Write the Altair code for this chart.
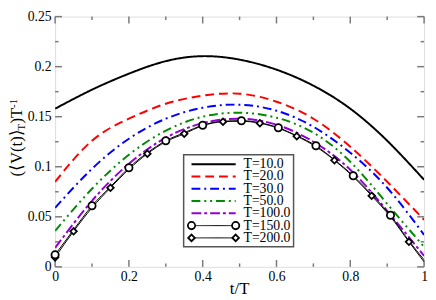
import altair as alt
import pandas as pd

# ---------------- data ----------------
t_grid = [0.0, 0.1, 0.2, 0.3, 0.4, 0.5, 0.6, 0.7, 0.8, 0.9, 1.0]
T10 = [0.158, 0.177, 0.193, 0.2055, 0.2105, 0.207, 0.197, 0.181, 0.158, 0.126, 0.087]
T20 = [0.085, 0.126, 0.148, 0.163, 0.171, 0.173, 0.165, 0.148, 0.120, 0.085, 0.047]
T30 = [0.059, 0.098, 0.128, 0.148, 0.159, 0.162, 0.156, 0.140, 0.114, 0.079, 0.032]
T50 = [0.036, 0.078, 0.112, 0.136, 0.150, 0.154, 0.149, 0.134, 0.105, 0.063, 0.020]
T100 = [0.019, 0.066, 0.103, 0.129, 0.1435, 0.148, 0.142, 0.125, 0.097, 0.056, 0.011]

t_mark = [0.0, 0.05, 0.1, 0.15, 0.2, 0.25, 0.3, 0.35, 0.4, 0.455, 0.505,
          0.555, 0.605, 0.655, 0.707, 0.757, 0.808, 0.858, 0.909, 0.959, 1.0]
T150 = [0.012, 0.037, 0.061, 0.080, 0.099, 0.114, 0.126, 0.134, 0.1415, 0.1455, 0.146,
        0.144, 0.139, 0.131, 0.121, 0.107, 0.091, 0.072, 0.0515, 0.026, 0.007]
T200 = [0.0095, 0.0355, 0.059, 0.079, 0.0975, 0.113, 0.125, 0.133, 0.141, 0.145, 0.1455,
        0.1435, 0.1385, 0.1305, 0.120, 0.1065, 0.090, 0.071, 0.050, 0.025, 0.005]

labels = ["T=10.0", "T=20.0", "T=30.0", "T=50.0", "T=100.0", "T=150.0", "T=200.0"]
colors = ["#000000", "#ff0000", "#0000ff", "#008b00", "#9400d3", "#000000", "#000000"]
dashes = [[1, 0], [9, 5], [9, 4, 2, 4], [9, 4, 2, 4, 2, 4], [10, 3, 3, 3], [1, 0], [1, 0]]
widths = [2, 2, 2, 2, 2, 1, 1]

x_major = [0, 0.2, 0.4, 0.6, 0.8, 1.0]
x_minor = [0.1, 0.3, 0.5, 0.7, 0.9]
y_major = [0, 0.05, 0.1, 0.15, 0.2, 0.25]
y_minor = [0.025, 0.075, 0.125, 0.175, 0.225]

W, H = 376, 255
SERIF = "Liberation Serif"
FRAME = "#7a7a7a"

xs = alt.Scale(domain=[0, 1], nice=False, zero=False)
ys = alt.Scale(domain=[0, 0.25], nice=False, zero=False)

xax = alt.Axis(values=x_major, format="~g", ticks=False, domain=False, grid=False,
               labelFont=SERIF, labelFontSize=14, labelColor="black", labelPadding=3,
               labelFlush=False, labelOverlap=False, labelBound=False, title=None)
yax = alt.Axis(values=y_major, format="~g", ticks=False, domain=False, grid=False,
               labelFont=SERIF, labelFontSize=14, labelColor="black", labelPadding=4,
               labelFlush=False, labelOverlap=False, labelBound=False, title=None)

layers = []

# base layer carrying axes
base_df = pd.DataFrame({"t": [0.0, 1.0], "v": [0.0, 0.25]})
layers.append(alt.Chart(base_df).mark_point(opacity=0).encode(
    x=alt.X("t:Q", scale=xs, axis=xax),
    y=alt.Y("v:Q", scale=ys, axis=yax)))

# ticks (inward)
def tick_layer(vals, orient, length):
    df = pd.DataFrame({"p": vals})
    m = alt.Chart(df).mark_rule(color=FRAME, strokeWidth=1.5)
    if orient == "bottom":
        return m.encode(x=alt.X("p:Q", scale=xs), y=alt.value(H), y2=alt.value(H - length))
    if orient == "top":
        return m.encode(x=alt.X("p:Q", scale=xs), y=alt.value(0), y2=alt.value(length))
    if orient == "left":
        return m.encode(y=alt.Y("p:Q", scale=ys), x=alt.value(0), x2=alt.value(length))
    return m.encode(y=alt.Y("p:Q", scale=ys), x=alt.value(W), x2=alt.value(W - length))

for o in ["bottom", "top"]:
    layers.append(tick_layer(x_major, o, 7))
    layers.append(tick_layer(x_minor, o, 3.5))
for o in ["left", "right"]:
    layers.append(tick_layer(y_major, o, 7))
    layers.append(tick_layer(y_minor, o, 3.5))

# curves
series_grid = [T10, T20, T30, T50, T100]
for i, vals in enumerate(series_grid):
    df = pd.DataFrame({"t": t_grid, "v": vals})
    layers.append(alt.Chart(df).mark_line(
        color=colors[i], strokeWidth=widths[i], strokeDash=dashes[i],
        interpolate="natural", clip=True).encode(
        x=alt.X("t:Q", scale=xs), y=alt.Y("v:Q", scale=ys)))

for i, vals in [(5, T150), (6, T200)]:
    df = pd.DataFrame({"t": t_mark, "v": vals})
    layers.append(alt.Chart(df).mark_line(
        color=colors[i], strokeWidth=widths[i], interpolate="monotone", clip=True).encode(
        x=alt.X("t:Q", scale=xs), y=alt.Y("v:Q", scale=ys)))

# markers: circles (T=150) at even indices, diamonds (T=200) at index 0 and odd ones
n = len(t_mark) - 1
circ_df = pd.DataFrame({"t": [t_mark[k] for k in range(0, n, 2)],
                        "v": [T150[k] for k in range(0, n, 2)]})
diam_idx = [0] + list(range(1, n, 2))
diam_df = pd.DataFrame({"t": [t_mark[k] for k in diam_idx],
                        "v": [T200[k] for k in diam_idx]})
layers.append(alt.Chart(diam_df).mark_point(
    shape="diamond", size=45, filled=True, fill="white", stroke="black",
    strokeWidth=1.8, opacity=1).encode(x=alt.X("t:Q", scale=xs), y=alt.Y("v:Q", scale=ys)))
layers.append(alt.Chart(circ_df).mark_point(
    shape="circle", size=55, filled=True, fill="white", stroke="black",
    strokeWidth=1.8, opacity=1).encode(x=alt.X("t:Q", scale=xs), y=alt.Y("v:Q", scale=ys)))

# ---------------- legend (data-space layout) ----------------
LX0, LX1, LY0, LY1 = 0.3484, 0.6463, 0.0201, 0.1121
SX0, SX1, TX = 0.3697, 0.4894, 0.5106
row_y = [0.1025 - 0.01226 * k for k in range(7)]

box_df = pd.DataFrame({"x": [LX0], "x2": [LX1], "y": [LY0], "y2": [LY1]})
layers.append(alt.Chart(box_df).mark_rect(fill="white", stroke="#555555", strokeWidth=1.5).encode(
    x=alt.X("x:Q", scale=xs), x2="x2:Q", y=alt.Y("y:Q", scale=ys), y2="y2:Q"))

for i in range(7):
    df = pd.DataFrame({"x": [SX0], "x2": [SX1], "y": [row_y[i]]})
    layers.append(alt.Chart(df).mark_rule(
        color=colors[i], strokeWidth=widths[i], strokeDash=dashes[i]).encode(
        x=alt.X("x:Q", scale=xs), x2="x2:Q", y=alt.Y("y:Q", scale=ys)))

txt_df = pd.DataFrame({"x": [TX] * 7, "y": row_y, "lab": labels})
layers.append(alt.Chart(txt_df).mark_text(
    align="left", baseline="middle", font=SERIF, fontSize=14, color="black").encode(
    x=alt.X("x:Q", scale=xs), y=alt.Y("y:Q", scale=ys), text="lab:N"))

lm_c = pd.DataFrame({"x": [SX0, SX1], "y": [row_y[5]] * 2})
lm_d = pd.DataFrame({"x": [SX0, SX1], "y": [row_y[6]] * 2})
layers.append(alt.Chart(lm_c).mark_point(
    shape="circle", size=55, filled=True, fill="white", stroke="black",
    strokeWidth=1.8, opacity=1).encode(x=alt.X("x:Q", scale=xs), y=alt.Y("y:Q", scale=ys)))
layers.append(alt.Chart(lm_d).mark_point(
    shape="diamond", size=45, filled=True, fill="white", stroke="black",
    strokeWidth=1.8, opacity=1).encode(x=alt.X("x:Q", scale=xs), y=alt.Y("y:Q", scale=ys)))

# ---------------- axis titles built from text pieces ----------------
def ptext(txt, x, y, size, angle=270, align="left", baseline="middle"):
    return alt.Chart(pd.DataFrame({"s": [txt]})).mark_text(
        angle=angle, align=align, baseline=baseline, font=SERIF, fontSize=size,
        color="black").encode(text="s:N", x=alt.value(x), y=alt.value(y))

layers.append(ptext("(\u27e8V(t)\u27e9", -39, 163, 17))
layers.append(ptext("T", -34, 116, 11))
layers.append(ptext(")T", -39, 109, 17))
layers.append(ptext("-1", -42, 93, 11))

layers.append(ptext("t/T", W / 2, H + 28, 17, angle=0, align="center", baseline="alphabetic"))

chart = alt.layer(*layers).properties(
    width=W, height=H,
    autosize=alt.AutoSizeParams(type="none"),
    padding={"left": 48, "top": 6, "right": 4, "bottom": 31},
).configure_view(stroke=FRAME, strokeWidth=2).configure(background="white")

chart.save("out.html", embed_options={"renderer": "svg", "actions": False})
